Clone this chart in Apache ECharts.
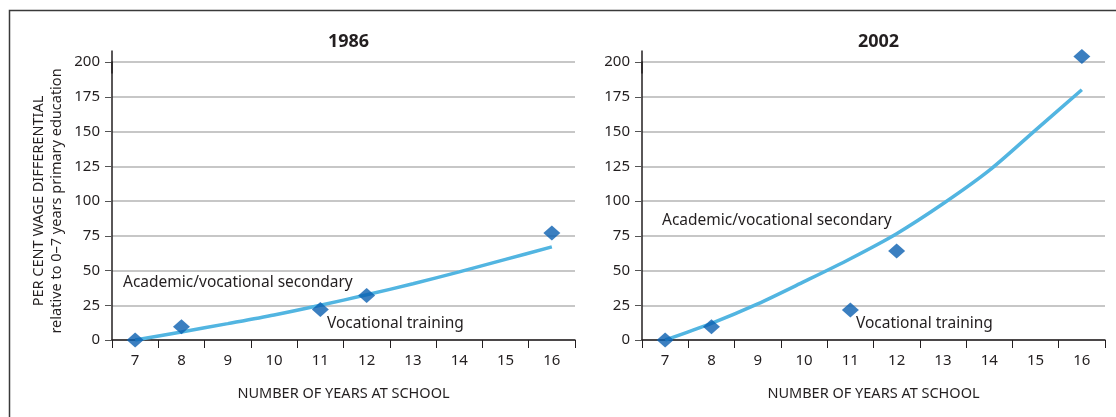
<!DOCTYPE html>
<html>
<head>
<meta charset="utf-8">
<script src="https://cdn.jsdelivr.net/npm/echarts@6/dist/echarts.min.js"></script>
<style>
html,body{margin:0;padding:0;background:#fff;}
#chart{width:1116px;height:417px;}
</style>
</head>
<body>
<div id="chart"></div>
<script>
// ---- data ----
const years = ['7', '8', '9', '10', '11', '12', '13', '14', '15', '16'];
const panelTitles = ['1986', '2002'];
const trend1986 = [0, 5.8, 11.8, 18, 25, 32.5, 40.5, 49, 58, 67];
const points1986 = [0, 9.5, null, null, 22, 32, null, null, null, 77];
const trend2002 = [0, 12, 26, 42, 58.5, 76.5, 98, 122, 151, 180];
const points2002 = [0, 9.5, null, null, 21.5, 64, null, null, null, 204];
const yMin = 0, yMax = 200, yStep = 25;
const yName = 'PER CENT WAGE DIFFERENTIAL\nrelative to 0\u20137 years primary education';
const xName = 'NUMBER OF YEARS AT SCHOOL';
const labelAcademic = 'Academic/vocational secondary';
const labelVocational = 'Vocational training';

const FONT = '"Noto Sans", "Open Sans", sans-serif';
const TXT = '#231f20';
const LINE = '#52b5e1';
const DOT = '#0a5fb0';

const grids = [
  {left: 112, top: 62, width: 463, height: 278},
  {left: 642, top: 62, width: 463, height: 278}
];

function xAxis(i) {
  return {
    type: 'category', gridIndex: i, data: years, boundaryGap: true,
    name: xName, nameLocation: 'middle', nameGap: 46,
    nameTextStyle: {fontFamily: FONT, fontSize: 14.5, color: TXT},
    axisLine: {lineStyle: {color: TXT, width: 1.5}},
    axisTick: {show: true, length: 8, lineStyle: {color: TXT, width: 1}},
    axisLabel: {fontFamily: FONT, fontSize: 15, color: TXT, margin: 13},
    splitLine: {show: false}
  };
}
function yAxis(i) {
  return {
    type: 'value', gridIndex: i, min: yMin, max: yMax, interval: yStep,
    name: i === 0 ? yName : '', nameLocation: 'middle', nameGap: 46,
    nameTextStyle: {fontFamily: FONT, fontSize: 14.5, color: TXT, lineHeight: 18},
    axisLine: {show: true, lineStyle: {color: TXT, width: 1.5},
      symbol: ['none', 'rect'], symbolSize: [1.5, 23]},
    axisTick: {show: true, length: 7, lineStyle: {color: '#555', width: 1}},
    axisLabel: {fontFamily: FONT, fontSize: 15, color: TXT, margin: 12},
    splitLine: {show: true, lineStyle: {color: '#b5b5b5', width: 1.5}}
  };
}
function lineSeries(i, data) {
  return {type: 'line', xAxisIndex: i, yAxisIndex: i, data: data, smooth: 0.3,
    showSymbol: false, lineStyle: {color: LINE, width: 3.5}, z: 2, silent: true};
}
function dotSeries(i, data) {
  return {type: 'scatter', xAxisIndex: i, yAxisIndex: i, data: data, symbol: 'diamond',
    symbolSize: [17, 15], itemStyle: {color: DOT}, clip: false, z: 3, silent: true};
}
function note(x, y, text) {
  return {type: 'text', x: x, y: y, z: 10,
    style: {text: text, fill: TXT, font: '15.5px ' + FONT, verticalAlign: 'middle', textVerticalAlign: 'middle'}};
}

const option = {
  animation: false,
  backgroundColor: '#fff',
  title: panelTitles.map((t, i) => ({
    text: t, left: grids[i].left + grids[i].width / 2, top: 28, textAlign: 'center',
    textStyle: {fontFamily: FONT, fontSize: 18, fontWeight: 'bold', color: TXT}
  })),
  grid: grids,
  xAxis: [xAxis(0), xAxis(1)],
  yAxis: [yAxis(0), yAxis(1)],
  series: [
    lineSeries(0, trend1986), dotSeries(0, points1986),
    lineSeries(1, trend2002), dotSeries(1, points2002)
  ],
  graphic: [
    {type: 'polyline', z: 10, shape: {points: [[9.5, 417], [9.5, 10.5], [1116, 10.5]]},
      style: {stroke: '#3a3a3a', lineWidth: 1.5, fill: null}},
    note(123, 283, labelAcademic),
    note(327, 324, labelVocational),
    note(662, 221, labelAcademic),
    note(856, 324, labelVocational)
  ]
};

const chart = echarts.init(document.getElementById('chart'), null, {renderer: 'canvas'});
chart.setOption(option);
</script>
</body>
</html>
